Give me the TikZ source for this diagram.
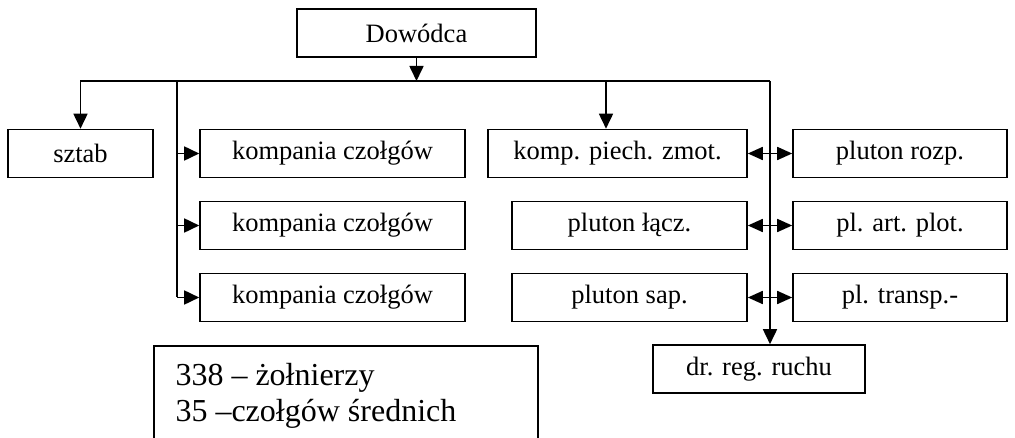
\documentclass[tikz,border=0pt]{standalone}
\usepackage{fontspec}
\setmainfont{LiberationSerif}[Extension=.ttf, UprightFont=*-Regular, BoldFont=*-Bold]
\usetikzlibrary{arrows.meta}
\tikzset{
  box/.style={draw, line width=1.6pt, rectangle, inner sep=0pt, minimum height=48pt,
    font=\fontsize{26.5}{30}\selectfont, anchor=center},
  conn/.style={line width=1.7pt},
  tip/.style={-{Triangle[length=15pt,width=14pt]}},
  dtip/.style={{Triangle[length=15pt,width=13pt]}-{Triangle[length=15pt,width=13pt]}},
}
\begin{document}
\begin{tikzpicture}[x=1pt,y=-1pt]
\useasboundingbox (0,0) rectangle (1015,438);
\clip (0,0) rectangle (1015,438);
% nodes
\node[box, minimum width=239pt] (dow) at (416.5,33) {Dowódca};
\node[box, minimum width=145pt] (sztab) at (80.5,153.5) {sztab};
\node[box, minimum width=265pt] (k1) at (332.5,153.5) {kompania czołgów};
\node[box, minimum width=265pt] (k2) at (332.5,225.5) {kompania czołgów};
\node[box, minimum width=265pt] (k3) at (332.5,297.5) {kompania czołgów};
\node[box, minimum width=259pt] (komp) at (617.5,153.5) {komp. piech. zmot.};
\node[box, minimum width=235pt] (lacz) at (629.5,225.5) {pluton łącz.};
\node[box, minimum width=235pt] (sap) at (629.5,297.5) {pluton sap.};
\node[box, minimum width=214pt] (rozp) at (900,153.5) {pluton rozp.};
\node[box, minimum width=214pt] (art) at (900,225.5) {pl. art. plot.};
\node[box, minimum width=214pt] (transp) at (900,297.5) {pl. transp.-};
\node[box, minimum width=212pt] (drreg) at (759,369) {dr. reg. ruchu};
\node[draw, line width=1.6pt, rectangle, minimum width=384pt, minimum height=120pt,
  inner sep=0pt, anchor=north west, align=left] (note) at (153,345) {};
\node[anchor=base west, align=left, font=\fontsize{32}{37}\selectfont] (notetxt) at (172,385)
  {338 – żołnierzy};
\node[anchor=base west, align=left, font=\fontsize{32}{37}\selectfont] (notetxt2) at (172,421)
  {35 –czołgów średnich};
% bus coordinates
\coordinate (busL) at (sztab.north |- 0,81);
\coordinate (busM) at (dow.south |- 0,81);
\coordinate (busK) at (177,81);
\coordinate (busP) at (606,81);
\coordinate (busR) at (770,81);
\coordinate (kBot) at (177,297.5);
% connectors
\draw[conn,tip] (dow.south) -- (busM);
\draw[conn,tip] (busR) -- (busL) -- (sztab.north);
\draw[conn] (busK) -- (kBot);
\draw[conn,tip] (busK |- k1.west) -- (k1.west);
\draw[conn,tip] (busK |- k2.west) -- (k2.west);
\draw[conn,tip] (kBot) -- (k3.west);
\draw[conn,tip] (busP) -- (busP |- komp.north);
\draw[conn,tip] (busR) -- (busR |- drreg.north);
\draw[conn,dtip] (komp.east) -- (rozp.west);
\draw[conn,dtip] (lacz.east) -- (art.west);
\draw[conn,dtip] (sap.east) -- (transp.west);
\end{tikzpicture}
\end{document}
